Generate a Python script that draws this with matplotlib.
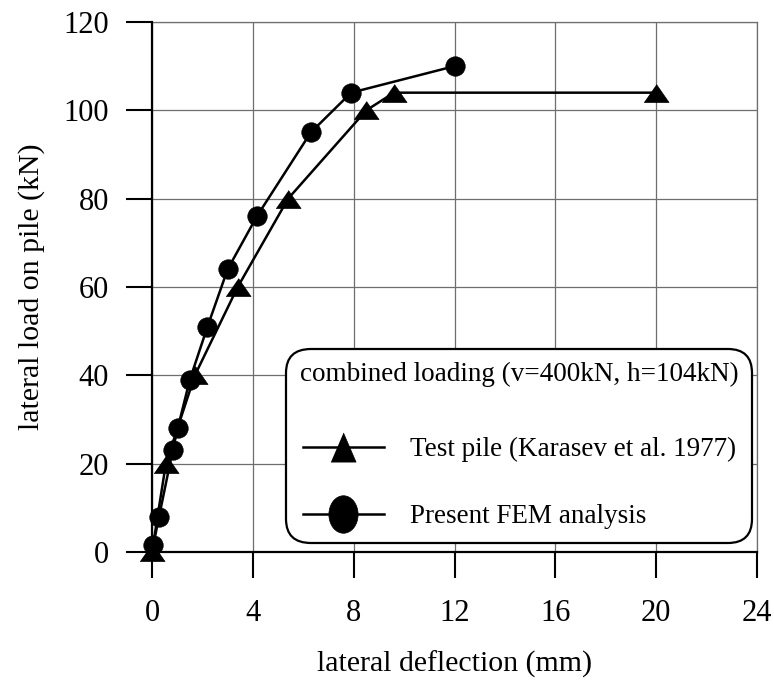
import numpy as np
import matplotlib
matplotlib.use("Agg")
import matplotlib.pyplot as plt
from matplotlib.lines import Line2D
from matplotlib.path import Path
from matplotlib.transforms import Affine2D

plt.rcParams['font.family'] = ['Liberation Serif', 'DejaVu Serif']

# =========================
# Data
# =========================

test_x = [0.0, 0.55, 1.7, 3.4, 5.4, 8.5, 9.6, 20.0]
test_y = [0.0, 20, 40, 60, 80, 100, 104, 104]

fem_x = [0.05, 0.28, 0.82, 1.02, 1.5, 2.2, 3.0, 4.16, 6.3, 7.9, 12.0]
fem_y = [1.5, 8, 23, 28, 39, 51, 64, 76, 95, 104, 110]

x_ticks = [0, 4, 8, 12, 16, 20, 24]
y_ticks = [0, 20, 40, 60, 80, 100, 120]

test_label = "Test pile (Karasev et al. 1977)"
fem_label = "Present FEM analysis"
legend_title = "combined loading (v=400kN, h=104kN)"

# =========================
# Markers
# =========================

# wide flat triangle for the data points
tri_data = [(-1, -0.72), (1, -0.72), (0, 0.72)]
# taller triangle / ellipse used in the legend
tri_leg = [(-0.86, -1), (0.86, -1), (0, 1)]
ellipse = Path.unit_circle().transformed(Affine2D().scale(0.78, 1.0))

# =========================
# Figure
# =========================

fig = plt.figure(figsize=(7.74, 6.8), dpi=100)
ax = fig.add_axes([152/774, 1 - 552/680, 605/774, 530/680])

ax.plot(test_x, test_y, color='black', lw=1.8,
        marker=tri_data, markersize=18, mew=0.5, zorder=3, clip_on=False)
ax.plot(fem_x, fem_y, color='black', lw=1.8,
        marker='o', markersize=14, mew=0.5, zorder=3, clip_on=False)

ax.set_xlim(0, 24)
ax.set_ylim(0, 120)
ax.set_xticks(x_ticks)
ax.set_yticks(y_ticks)

ax.grid(True, color='#6e6e6e', lw=0.9)
ax.set_axisbelow(True)

for side in ['top', 'right']:
    ax.spines[side].set_color('#6e6e6e')
    ax.spines[side].set_linewidth(0.9)
for side in ['left', 'bottom']:
    ax.spines[side].set_color('black')
    ax.spines[side].set_linewidth(1.6)
    ax.spines[side].set_zorder(4)

ax.tick_params(direction='out', length=19, width=1.5, labelsize=22)
ax.tick_params(axis='x', pad=15)
ax.tick_params(axis='y', pad=12)

ax.set_xlabel("lateral deflection (mm)", fontsize=21.5, labelpad=16)
ax.set_ylabel("lateral load on pile (kN)", fontsize=21.5, labelpad=13)

# =========================
# Legend
# =========================

handles = [
    Line2D([], [], color='black', lw=1.8, marker=tri_leg,
           markersize=21, mew=0.5),
    Line2D([], [], color='black', lw=1.8, marker=ellipse,
           markersize=27, mew=0.5),
]

leg = ax.legend(handles, [test_label, fem_label],
                title=legend_title, title_fontsize=19.5, fontsize=19.5,
                loc='lower right', bbox_to_anchor=(0.992, 0.017),
                borderaxespad=0, borderpad=0.5, labelspacing=1.55,
                handlelength=3.0, handletextpad=0.95,
                frameon=True, fancybox=True, framealpha=1)
# a bit more room between the title and the entries (points)
if hasattr(leg, '_legend_box'):
    leg._legend_box.sep = 36
frame = leg.get_frame()
frame.set_edgecolor('black')
frame.set_linewidth(1.6)
frame.set_boxstyle('round', pad=0, rounding_size=0.9)
leg.set_zorder(5)

fig.savefig("out.png", dpi=100)
